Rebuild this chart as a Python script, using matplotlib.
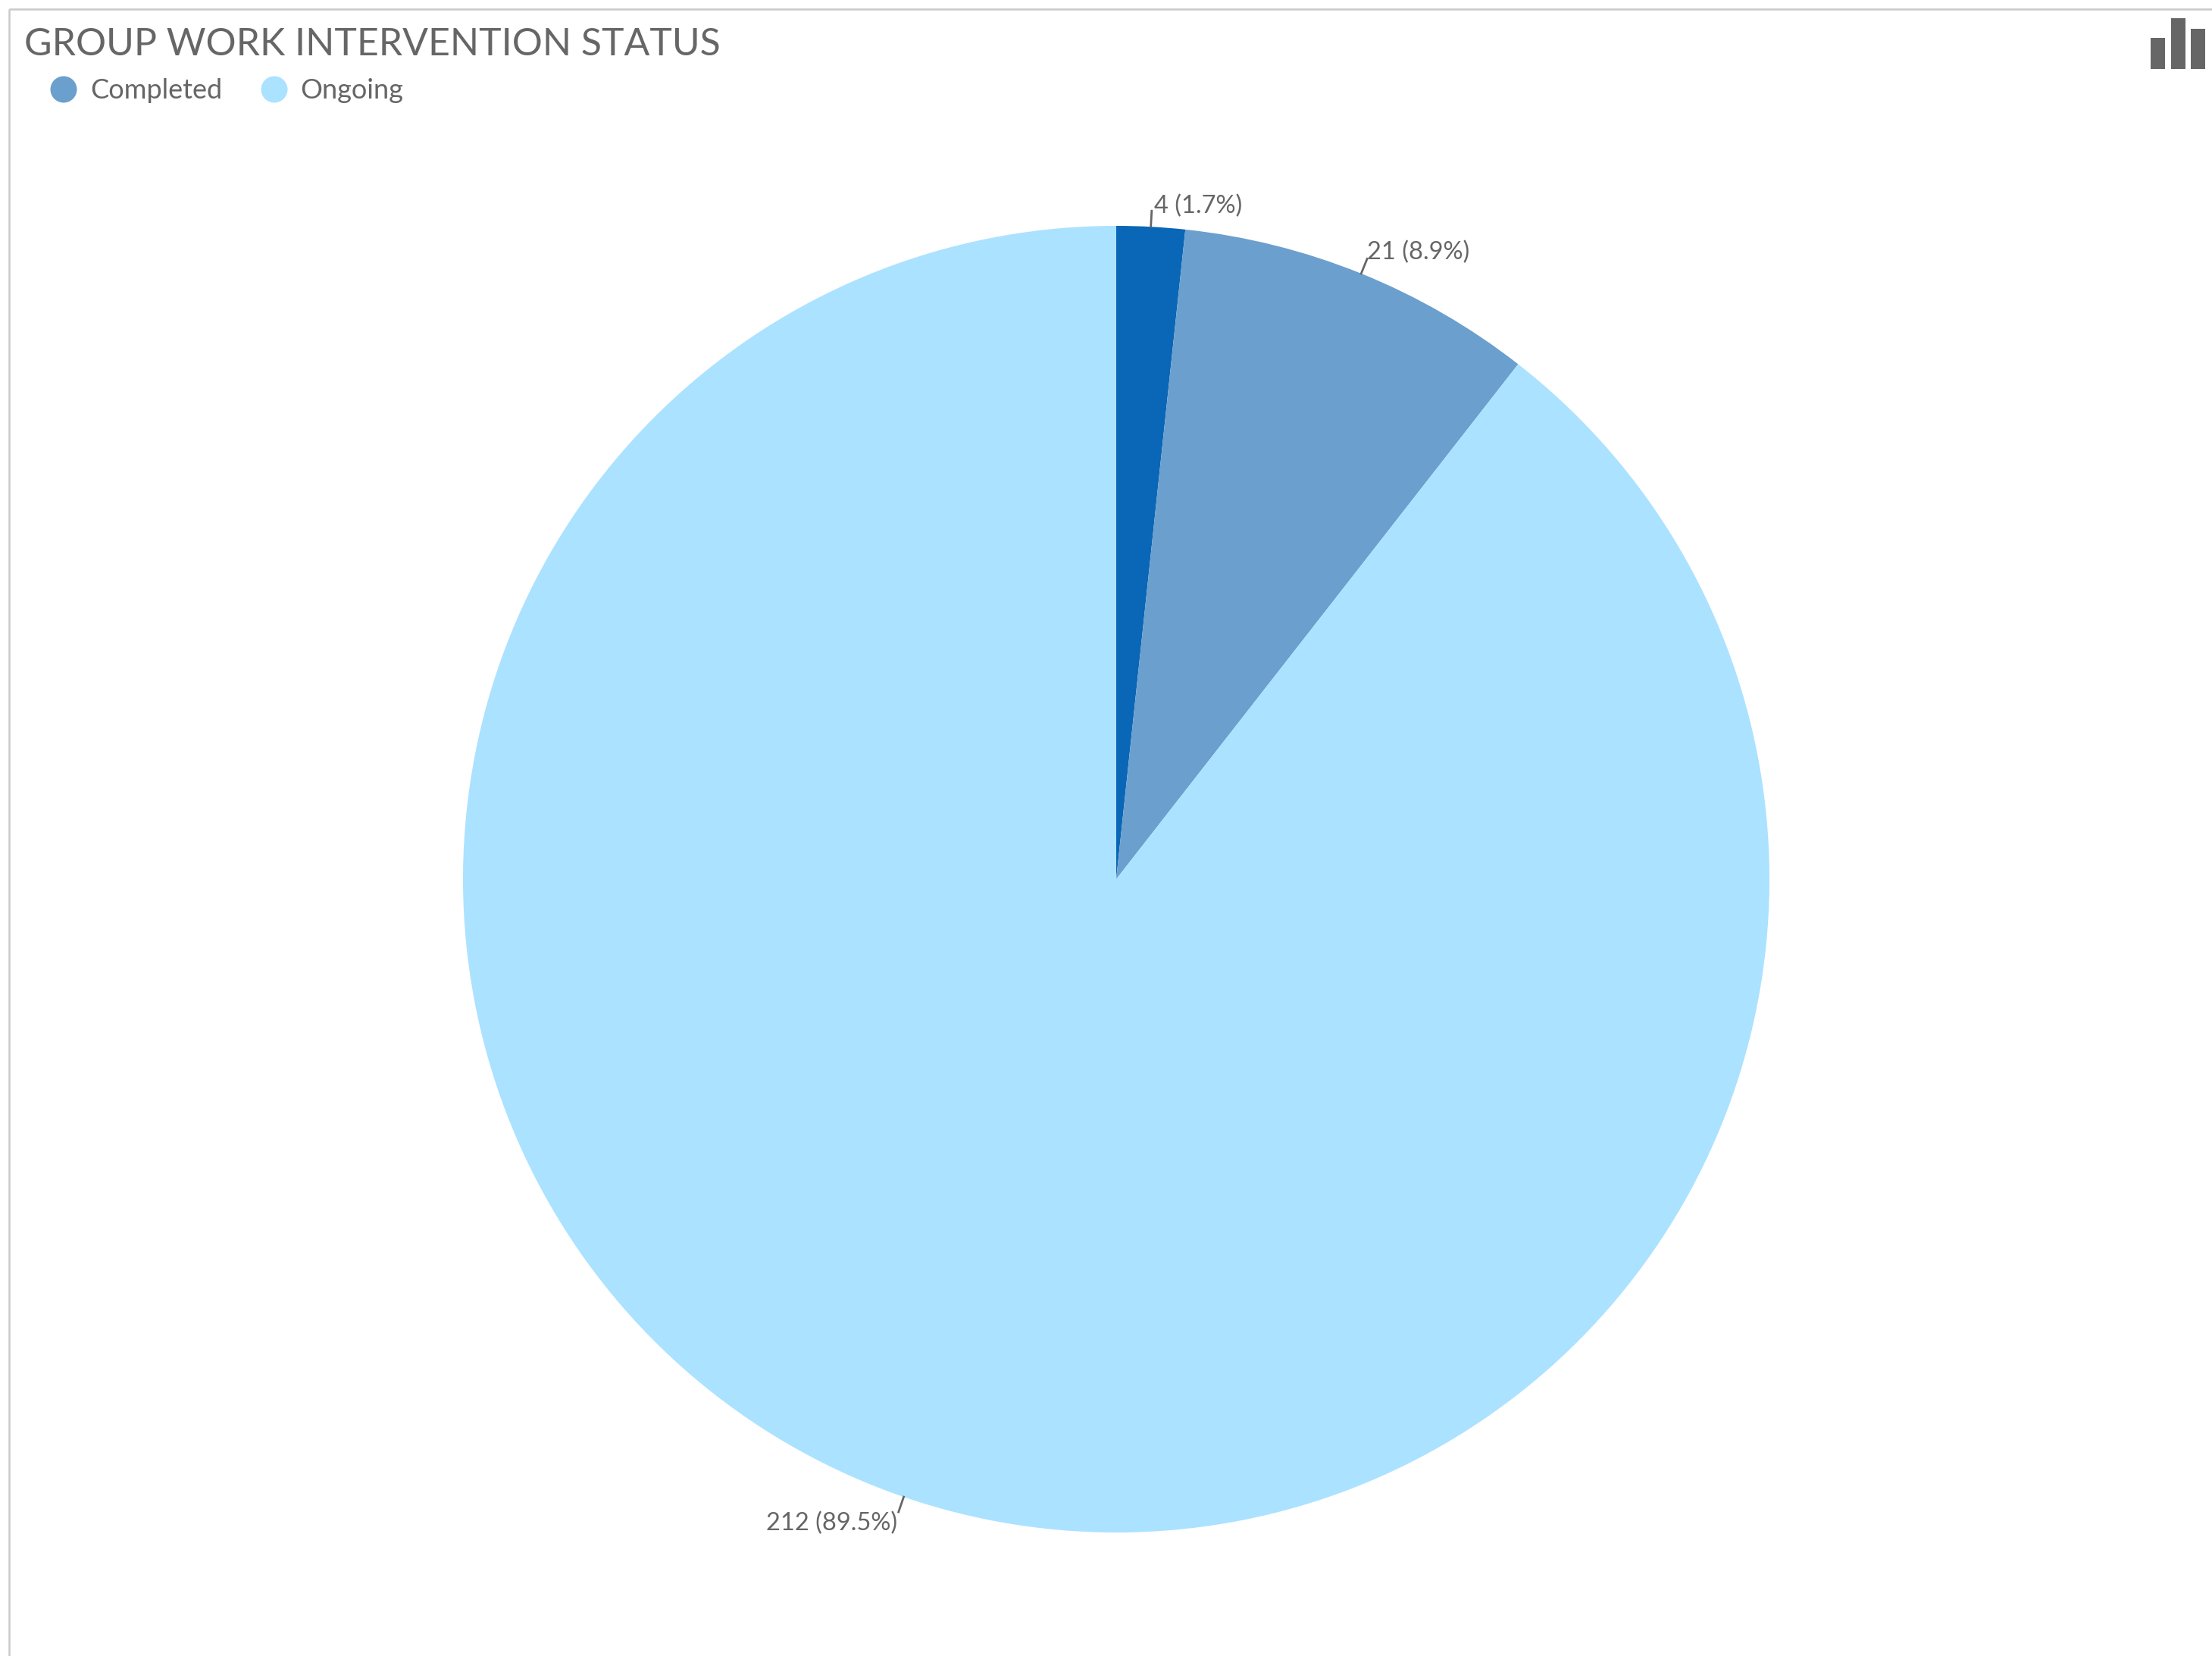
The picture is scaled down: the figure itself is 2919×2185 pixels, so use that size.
import numpy as np
import matplotlib
matplotlib.use("Agg")
import matplotlib.pyplot as plt
from matplotlib.patches import Circle, Rectangle

plt.rcParams["font.family"] = ["Lato", "DejaVu Sans"]

W, H = 2919, 2185
TEXT = "#666666"

TITLE = "GROUP WORK INTERVENTION STATUS"
SLICE_VALUES = [4, 21, 212]
SLICE_LABELS = ["4 (1.7%)", "21 (8.9%)", "212 (89.5%)"]
SLICE_COLORS = ["#0a66b7", "#6b9fcd", "#abe2ff"]
LEGEND_NAMES = ["Completed", "Ongoing"]
LEGEND_COLORS = ["#6b9fcd", "#abe2ff"]

CX, CY, R = 1473, 1160, 862

fig = plt.figure(figsize=(W / 100, H / 100), dpi=100, facecolor="white")

# page layer in pixel coordinates, y pointing down
page = fig.add_axes([0, 0, 1, 1])
page.set_xlim(0, W)
page.set_ylim(H, 0)
page.axis("off")

page.plot([12, W], [12, 12], color="#c9c9c9", lw=1.8, solid_capstyle="butt")
page.plot([12, 12], [12, H], color="#c9c9c9", lw=1.8, solid_capstyle="butt")

page.text(32, 73, TITLE, fontsize=36, color=TEXT, ha="left", va="baseline")

# legend
for name, col, mx, tx in zip(LEGEND_NAMES, LEGEND_COLORS, [84, 362], [119, 396]):
    page.add_patch(Circle((mx, 118), 17.5, color=col, lw=0))
    page.text(tx, 130, name, fontsize=26, color=TEXT, ha="left", va="baseline")

# chart-type icon in the corner
for x0, top in zip([2838, 2865, 2891], [50, 24, 38]):
    page.add_patch(Rectangle((x0, top), 19, 91 - top, color=TEXT, lw=0))

# pie
ax = fig.add_axes([(CX - R) / W, (H - CY - R) / H, 2 * R / W, 2 * R / H])
wedges, _ = ax.pie(SLICE_VALUES, colors=SLICE_COLORS, startangle=90,
                   counterclock=False, radius=1,
                   wedgeprops={"linewidth": 0})
ax.set_xlim(-1, 1)
ax.set_ylim(-1, 1)

# short leader at each slice's mid angle, label offset from its tip (pixels)
offsets = [(3, -3, "left"), (0, -1, "left"), (-2, -24, "right")]
for wedge, label, (dx, dy, ha) in zip(wedges, SLICE_LABELS, offsets):
    ang = np.deg2rad((wedge.theta1 + wedge.theta2) / 2)
    ux, uy = np.cos(ang), np.sin(ang)
    tip = 1 + 21 / R
    ax.plot([ux, ux * tip], [uy, uy * tip], color=TEXT, lw=2, clip_on=False)
    ax.annotate(label, xy=(ux * tip, uy * tip), xytext=(dx, dy),
                textcoords="offset pixels", fontsize=23.5, color=TEXT,
                ha=ha, va="baseline", annotation_clip=False)

fig.savefig("out.png", dpi=100, facecolor="white")
